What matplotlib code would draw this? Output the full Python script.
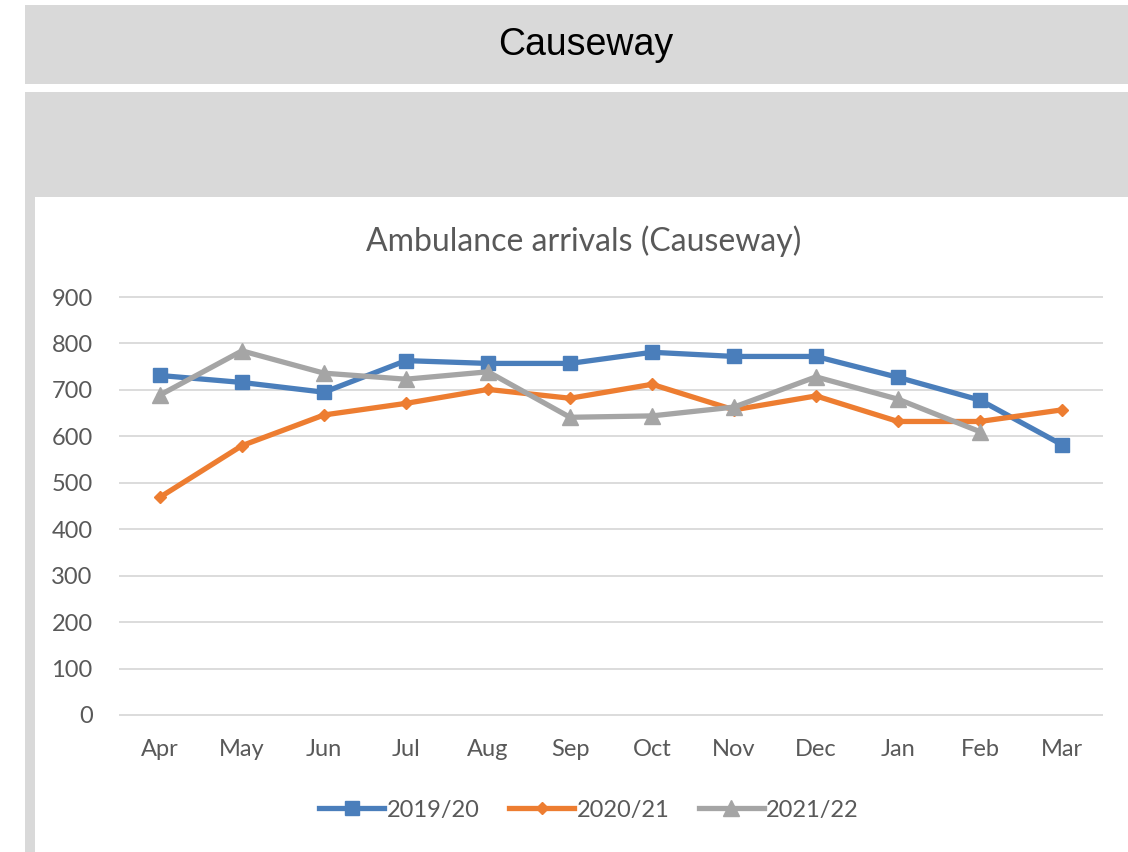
import matplotlib.pyplot as plt
from matplotlib.patches import Rectangle

# monthly ambulance arrivals, Causeway
months = ['Apr', 'May', 'Jun', 'Jul', 'Aug', 'Sep', 'Oct', 'Nov', 'Dec', 'Jan', 'Feb', 'Mar']
arrivals_1920 = [731, 716, 695, 763, 757, 757, 781, 772, 772, 727, 678, 582]
arrivals_2021 = [469, 580, 646, 671, 701, 682, 712, 657, 687, 632, 632, 657]
arrivals_2122 = [689, 784, 736, 723, 739, 641, 644, 663, 728, 680, 610]
series_names = ['2019/20', '2020/21', '2021/22']

text_grey = '#595959'
font = 'Lato'

fig = plt.figure(figsize=(11.28, 8.52), dpi=100)
W, H = 1128, 852


def box(x0, y0, x1, y1, color):
    # rectangle given in pixel coords from the top-left corner
    fig.patches.append(Rectangle((x0 / W, 1 - y1 / H), (x1 - x0) / W, (y1 - y0) / H,
                                 transform=fig.transFigure, facecolor=color,
                                 edgecolor='none', zorder=0))


box(25, 5, W, 84, '#d9d9d9')
box(25, 92, W, 197, '#d9d9d9')
box(25, 197, 35, H, '#d9d9d9')

fig.text(586 / W, 1 - 45 / H, 'Causeway', ha='center', va='center',
         fontsize=27, family='Liberation Sans', color='black')
fig.text(584 / W, 1 - 241 / H, 'Ambulance arrivals (Causeway)', ha='center', va='center',
         fontsize=23, family=font, color=text_grey)

# plot area: y 0..900 runs from pixel 715 up to 297
px_per_unit = (715 - 297) / 900
y_lo, y_hi = -10, 910
bottom = 715 + 10 * px_per_unit
top = 297 - 10 * px_per_unit
ax = fig.add_axes([119 / W, 1 - bottom / H, (1103 - 119) / W, (bottom - top) / H])

x = list(range(len(months)))
ax.plot(x, arrivals_1920, color='#4a7ebb', lw=3.8, marker='s', ms=10.5, label=series_names[0])
ax.plot(x, arrivals_2021, color='#ed7d31', lw=3.8, marker='D', ms=6.5, label=series_names[1])
ax.plot(x[:len(arrivals_2122)], arrivals_2122, color='#a5a5a5', lw=3.8, marker='^', ms=11,
        label=series_names[2])

ax.set_xlim(-0.5, 11.5)
ax.set_ylim(y_lo, y_hi)
ax.set_yticks(range(0, 1000, 100))
ax.set_xticks(x)
ax.set_xticklabels(months)
ax.grid(axis='y', color='#d9d9d9', lw=1.3)
ax.set_axisbelow(True)
for s in ax.spines.values():
    s.set_visible(False)
ax.tick_params(length=0, labelsize=17, labelcolor=text_grey)
ax.tick_params(axis='y', pad=19)
ax.tick_params(axis='x', pad=14)
for lab in ax.get_xticklabels() + ax.get_yticklabels():
    lab.set_family(font)

leg = fig.legend(loc='center', bbox_to_anchor=(589 / W, 1 - 810 / H), ncol=3,
                 frameon=False, handlelength=2.75, columnspacing=1.25, handletextpad=0.1,
                 numpoints=1, prop={'family': font, 'size': 17})
for t in leg.get_texts():
    t.set_color(text_grey)

fig.savefig('out.png', dpi=100, facecolor='white')
